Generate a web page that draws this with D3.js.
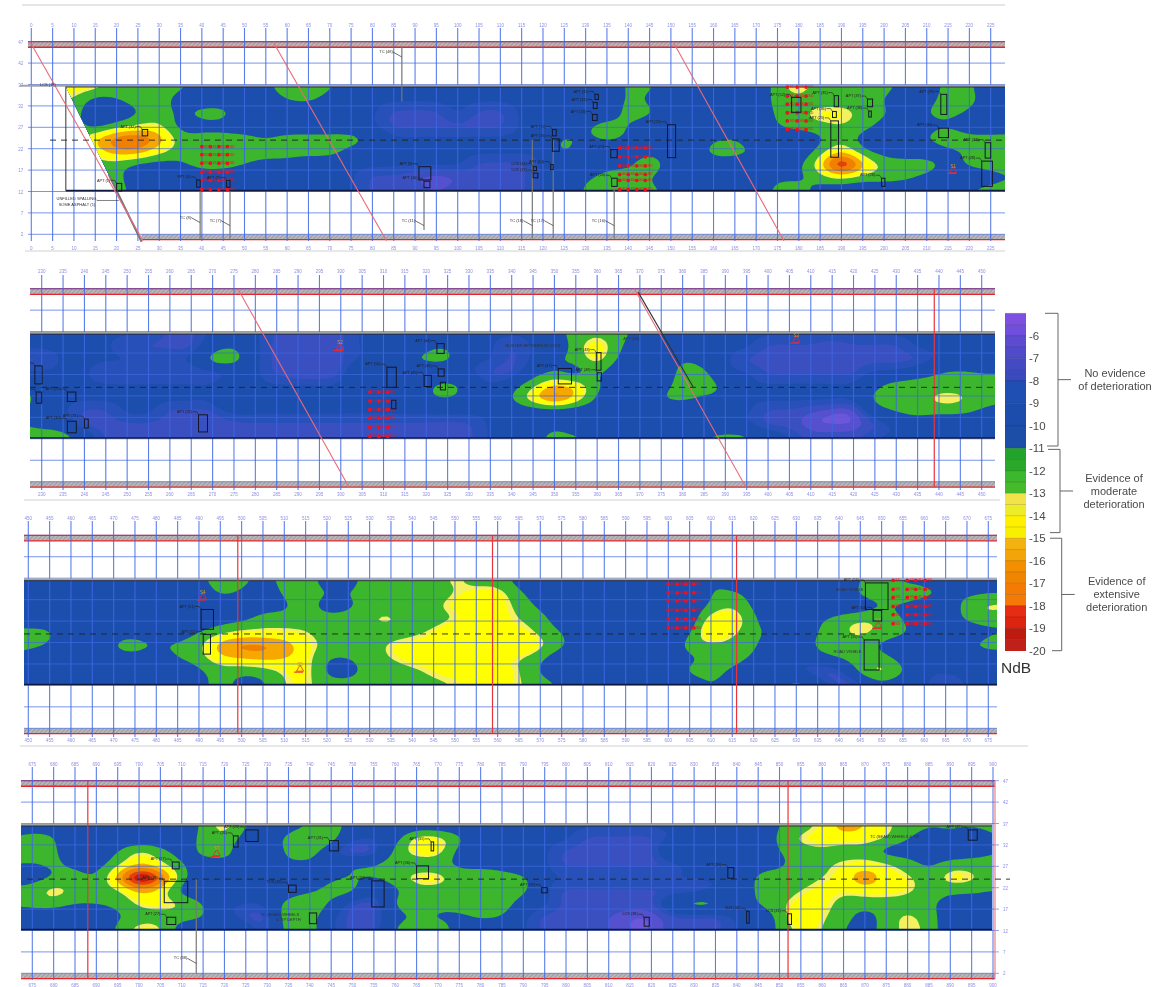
<!DOCTYPE html>
<html><head><meta charset="utf-8">
<script src="https://cdn.jsdelivr.net/npm/d3@7/dist/d3.min.js"></script>
<style>html,body{margin:0;padding:0;background:#fff}svg{display:block;filter:blur(0.45px)}text{font-family:"Liberation Sans",Arial,sans-serif}</style>
</head><body><svg id="c" width="1159" height="987"></svg>
<script>
// NdB magnitude read at every 5 stations (columns) across 9 lateral rows of each deck strip
const field1=[
[14,14,14,14,12,12,12,11.5,10,9,9,10,13,12,11.5,9,9,9,9,9,9,9,9,9,9,9,9,9,11.5,11.5,9,9,9,9,9,12,14,12,12,12,12,10,10,11.5,11.5,9,9],
[13,13,13,10,11,12,12,10,9,9,9,9,11,11.5,10,9,9,9,9,9,9,9,9,9,9,9,9,9,11.5,10.5,9,9,9,9,9,12,12.5,12,12,12,11,9,10,12,12,9,9],
[12,12,12,9,9,11,12,10.5,12,12,9,9,9,9,9,9,9,8,8,8,9,8,8,9,9,9,9,9,12,11.5,9,9,9,9,9,11.5,12.5,13.7,13.7,12.5,11.5,9,11,12,10.5,9,9],
[12,12,12,10,12,13,13.5,10,10,10,9,9,9,9,9,9,9,8,8,8,8,8,8,9,9,9,10.5,12,11,9,9,9,9,9,9,11,12,12.5,13,12,10,9,10,10.5,9,9,9],
[12,12,12,15,17.5,18,16,12,12,12,12,11,12,12,12,12,10,9,9,9,9,9,9,9,9,11.5,10.5,11.5,10.5,9,9,9,10.5,11,9,9,9,10.5,12.5,10,9,9,11,13,12,12,12],
[12,12,12,14,16,16,13.7,12,12,12,12,12,12,12,12,10,10,9,9,9,9,9,9,9,9,11.5,9,9,9,10,9,9,12,12,10.5,9,9,12,15,11.5,10,9,9,10,11.5,12,12],
[12,12,12,12,12,10.5,10,10.5,12,12,11,10,10,9,9,9,9,9,9,9,9,8,8,8,9,9,9,10,10,13.5,9,9,9,9,9,9,10.5,14.5,20.5,15.5,12.5,12.5,12.5,10,11.5,12,12],
[12,12,12,12,12,9,9,9,9,9,9,9,9,9,9,9,8,8,7.5,7,7.5,8,8,8,9,9,10.5,12,13,11,9,9,9,9,9,10.5,10.5,12,13.5,12,12,11.5,10,9,9,10,11],
[12,12,12,12,12,10,9,9,9,9,9,9,9,9,9,9,8,8,8,7.5,8,8,8,8,9,9,11.5,12.5,12,12,10,11,11.5,11,9,12,12,10,9,9,9,9,9,9,11,12,12]];
const field2=[
[9,9,9,9,9,9,9,8,8,9,9,9,8,8,8,8,9,9,9,9,9,9,9,9,9,10,12,12.5,12,10,9,9,9,9,9,9,9,9,9,9,9,9,9,9,9,9,9],
[9,9,9,9,9,8,8,8,8,10,11,9,8,8,8,8,9,9,9,10.5,11,9,9,8,9,9,12,14.5,11.5,9,9,9,9,9,9,8,8,8,7.5,8,8,8,9,9,9,9,9],
[8,8,9,9,9,9,9,9,9,12,12,9,8,8,8,8,9,9,10.5,11.5,11.5,9,9,8,9,11,11.5,14,10.5,9,9,11,10,9,8,8,8,8,8,8,8,8,8,9,9,9,9],
[9,9,9,9,8,8,8,8,8,8,9,9,8,7.5,7.5,8,11,9,9,9,9,9,8,8,10,11,10,11.5,9,9,9,12,11.5,9,9,8,8,8,8,8,9,9,10,11,11.5,11,11],
[11,9,9,9,9,9,9,9,9,9,10.5,9,9,9,9,9,11.5,9,9,10.5,12,10,9,10,12.5,15.5,14.5,11.5,9,9,10,12,12,10.5,9,9,9,9,9,9,10.5,12,12,12,12,12,12],
[12.5,10,9,9,9,9,9,9,9,9,11.5,9,9,9,9,9,9,9,9,10.5,11,10,9,11,14.5,17.5,14.5,10.5,9,9,11,11.5,10.5,10.5,9,9,9,9,9,9,11.5,12,12,13.7,13.5,12,11.5],
[11.5,9,9,8,8,9,9,8,8,8,9,9,9,9,9,9,9,9,9,9,9,9,9,9,9,9,9,9,9,9,9,9,9,9,9,8,8,7.5,7,7,10,11,12,11.5,11.5,10.5,10],
[11,10.5,10,8,8,8,8,8,8,8,8,8,8,8,8,8,8,8,8,8,8,8,9,9,9,10.5,9,9,9,9,9,9,9,9,9,8,8,7,7,7,8,9,9,9,9,9,9],
[12,12,12,10,8,8,8,8,8,8,8,8,8,8,8,8,8,8,8,8,8,8,9,9,10,12,11.5,10.5,9,9,9,9,11,12,11.5,10,9,8,8,8,9,9,10.5,11.5,9,9,9]];
const field3=[
[9,9,9,9,9,9,9,9,9,10.5,12,12,10,12,12,10,10,12,12,12,12,13.5,12,12,10,9,9,9,9,9,9,9,9,11,9.5,9,9,9,9,9,11,12,10.5,10,9,9,9,9],
[9,9,9,9,9,9,9,9,9,9,11.5,10.5,9,11.5,12,11,11,12,12,12,12,13,14,14,11.5,9.5,9,9,9,9,9,9,9,11,11.5,10,9,9,9,9,11.5,12,12.5,12,10.5,10.5,11,11],
[9,9,9,9,9,9,9,9,9,9,9,9,10,10.5,12,10,10.5,12,12,12,12.5,14,14,14,12.5,10.5,9,9,9,9,9,9,9,11.5,13,10.5,9,9,9,9,9.5,11,10.5,9,9,12,13.5,13.5],
[9,9,9,9,9,9,9,9,9,9,10,10.5,12,12,12,12,12,13,13.5,12,12,13,14,14,13,12,9.5,9,9,9,9,9,9,14.5,14.5,11.5,9,9,10.5,12,13,12.5,11,9,9,11.5,12,11],
[12,12,11.5,9,9,10,10,9,9.5,11,12.5,13.5,13.5,13.5,13.2,12,12,12,12,12.5,13.5,15.5,14,14,14,12.5,11,9,9,9,9,9,10.5,15.5,13.5,11.5,10.5,9,11,12.5,13.5,12.5,11.5,9.5,9,9,10.5,11],
[12,12,10.5,9,9,11,12,11,11.5,12.5,16,17,17,16,14,12.5,12,12,13.5,14,14,14,14,14,15.5,13.5,11.5,9,9,9,9,9,12,12.5,12,11.5,9,9,11.5,12,12,10.5,9,9,9,10.5,12,12],
[10.5,9,9,11.5,11.2,10,10,9,11,12,14.5,15,15.5,15,14,11,11,12,13,14,14,14,14,14,13,11.5,9,9,9,9,9,9,10.5,11.5,12,10.5,9,9,10,11,12,12,10,9,9,9,9,9],
[9,9,9,9,9,9,9,9,9,10.5,12,11.5,12,13.3,14,10.5,10,12,12,12.5,13.5,14,14,14,13.2,10.8,9,9,9,9,9,9,11.5,12,10.5,9,9,9,8,8,11.5,14,11,9,9,9,9,9],
[9,9,9,9,9,9,9,9,9,10,12,10,10.5,13,13.5,12,12,12,12,12,12.5,13,14,14,13.2,12,10.8,9,9,9,9,9,9,11,9.5,9,10,12,10,8,8,10,9,9,8,9,9,9]];
const field4=[
[9,9,10,11.5,10,9,9,9,9,11.5,14,11,9,9.5,11,11.5,10.5,9,9,9,9,9,9,9,9,9,9,9,9,9,9,9,9,9,9,9,11,12,13.5,16,15,13.5,12,11.2,11.5,11.5,11.5],
[11,12.5,11,9.5,9,9,9,9,9,12,12.5,10,9,12,13.5,12,9,9,10,14,14,11.5,9,9,9,9,9,8,8,8,8,9,9,9,9,9,11.5,13.5,14,14,14,13,11,10,10,9,11],
[12.5,13,11.5,9,9,11,13.5,12,10,11.5,12,9,9,11.5,12,9,7.5,8,11.5,14,14,10,9,9,9,9,8,8,8,7.5,8,11,11.5,9,9,9,11,12,12.5,12,12,10,10,10,9.5,10,11],
[11,10.5,11.5,10.5,10,12.5,15,13.5,11,10,10,11,10.5,10.5,10.5,10,11,11,12,11.5,11.5,10.5,10.5,10,9,9,8,8,8,8,8,8,9.5,9,9,10,10.5,12,12.5,13.5,14,13.5,12,10.5,12,12,11.5],
[9.5,10,11,12,11,16,21.5,18.5,12,9,9,9,9,9,9,10.5,11,11,12,14,14,12,12,12,11.5,9,9,9,9,9,9,9,9,9,9,11.5,12,12,13,14,16.5,14,13.5,12,14,13.5,12],
[12,12,14,12.5,12,12.5,15.5,14,10,9,9,9,9,9.5,10.5,12,11.5,9,10.5,12,12,12,12,12,11.5,9,8,8,8,8,8,8,8,9,9,11.5,12,13,14,13.5,14,14,13.5,12,11.5,11.5,11],
[11.5,12,12,11,11,11.5,13.5,14,13,11,9,9,9,12,13,10.5,8,8,11,13.5,12,12,12,12,10,9,8,8,8,8,8,10.5,12,11.5,10,11,12.5,14,14,12,12,12,12,11.5,10,9.5,9.5],
[9,9,9.5,9,10,10.5,12,12,12,11,9.5,8,8,12.5,12,9,8,8,10,11,10.5,10.5,11.5,11,9,8,8,8,7.5,7,7,8,8,8,9,9.5,11.5,15.5,13.2,12,10,12,13.5,12,9.5,9,9],
[9,9,11.5,10.5,9,11.5,14,13.5,9.5,9.5,11.5,10,8,12,12,9,8,8,11,13.5,13,9.5,9,9,9,8,8,8,7.5,7,7,8,8,8,9,9,11.5,13.5,13,11,10,12,13.5,12.5,9,9,9]];

// Inspection boxes: station from, station to, offset top, offset bottom, label
const boxes1=[[26,27.3,26.5,25,"APT (32)"],[38.8,39.6,14.7,13,"SPT (6)"],[45.8,46.6,14.6,13,"APT (7)"],[20,21.2,13.9,12.1,"APT (1)"],[90.9,93.7,17.8,14.7,"APT (9)"],[92.1,93.5,14.4,12.9,"APT (10)"],[132.2,133,34.7,33.5,"APT (31)"],[131.8,132.7,32.8,31.4,"APT (32)"],[131.6,132.7,30,28.6,"APT (33)"],[122.2,123.1,26.5,25,"APT (15)"],[122.2,123.8,24.3,21.4,"APT (16)"],[117.7,118.5,17.8,16.9,"LCS (14)"],[117.7,118.8,16.3,15.2,"LCS (13)"],[121.8,122.4,18.3,17.1,"APT (14)"],[135.9,137.4,21.8,19.9,"APT (21)"],[136.1,137.4,15.1,13.2,"APT (20)"],[149.2,151.1,27.6,19.9,"APT (23)"],[178.3,180.5,34,30.5,"APT (52)"],[188.3,189.3,34.4,31.8,"APT (35)"],[187.9,188.8,30.7,29.3,"APT (36)"],[187.5,189.3,28.5,20,"APT (25)"],[196.1,197.3,33.6,31.8,"APT (37)"],[196.4,197,30.8,29.4,"APT (38)"],[199.4,200.2,15.1,13.2,"APT (26)"],[213.3,214.7,34.7,30,"APT (39)"],[212.8,215.1,26.8,24.6,"APT (40)"],[223.7,225,23.4,19.8,"APT (27)"],[222.9,225.4,19.1,13.2,"APT (28)"]];
const boxes2=[[228.4,230.1,29,24.8,"APT (41)"],[228.7,230,22.9,20.3,"APT (42)"],[236,238,22.9,20.7,"APT (29)"],[236,238.1,16.1,13.4,"APT (30)"],[240,240.9,16.6,14.5,"APT (31)"],[266.7,268.8,17.6,13.6,"APT (32)"],[310.8,313,28.7,24,"APT (50)"],[322.5,324.2,34.2,31.9,"APT (44)"],[322.8,324.2,28.3,26.6,"APT (46)"],[319.5,321.2,26.8,24.2,"APT (45)"],[323.3,324.5,25.2,23.4,""],[311.9,312.9,21,19,""],[350.9,354,28.4,24.8,"APT (47)"],[359.8,360.9,32.1,28,"APT (48)"],[360,361,27.4,25.5,"APT (49)"]];
const boxes3=[[490.5,493.4,29.7,25.1,"APT (51)"],[491,492.7,23.9,19.3,"APT (52)"],[646.2,651.5,35.9,29.7,"APT (53)"],[648,650,29.5,27,"APT (54)"],[645.9,649.4,22.6,15.6,"APT (55)"]];
const boxes4=[[707.8,709.4,28,26.4,"APT (27)"],[705.9,711.4,23.5,18.5,"APT (28)"],[706.5,708.6,15.1,13.4,"APT (27)"],[722.1,723.2,34.1,31.5,"APT (26)"],[725,727.9,35.5,32.8,"APT (29)"],[744.6,746.7,33,30.6,"APT (31)"],[735,736.8,22.6,20.9,"TOS (33)"],[739.9,741.6,16.1,13.6,""],[754.5,757.4,23.6,17.5,"APT (34)"],[765,767.8,27.1,24.1,"APT (36)"],[768.4,769,32.7,30.6,"APT (35)"],[794.3,795.6,22,20.8,"APT (37)"],[837.9,839.3,26.7,24.2,"APT (39)"],[842.3,842.9,16.5,13.7,"SLR (40)"],[818.3,819.5,15.1,13,"LCS (38)"],[851.9,852.8,15.9,13.4,"LCS (41)"],[894.2,896.3,35.5,33.1,"APT (42)"]];

// Core-dot grids: stations and offsets
const dotGrids1=[{st:[40,42,44,46],off:[22.5,20.6,18.6,16.5,14.6,12.5]},{st:[138,140,142,144],off:[22.2,20.1,18,16,14.6,12.5]},{st:[177.3,179.6,181.7],off:[36.4,34.3,32.4,30.4,28.5,26.5]}];
const dotGrids2=[{st:[306.8,308.9,311],off:[22.9,20.8,18.8,16.8,14.7,12.6]}];
const dotGrids3=[{st:[600,602.1,604.1,606],off:[35.6,33.6,31.7,29.5,27.5,25.4]},{st:[652.7,656,658,660.2],off:[36.5,34.4,32.5,30.4,28.5,26.4]}];
const dotGrids4=[];

// Spall marks: station, offset, label
const marks1=[[216.2,16.9,"S1"]];
const marks2=[[299.8,33.3,"S2"],[406.6,35,"S3"]];
const marks3=[[490.9,32.6,"S4"],[513.7,15.8,"S5"],[649.2,26,"S6"]];
const marks4=[[718.2,30,"S7"]];

// Joint diagonals and edge lines: station top, offset top, station bottom, offset bottom, colour
const diagonals1=[[-0.3,47,26.2,0.5,"#ea6a78"],[56.7,47,83.3,0.5,"#ea6a78"],[150.5,47,176.5,0.5,"#ea6a78"]];
const diagonals2=[[275.9,47,302,0.6,"#ea6a78"],[368.7,47,394.9,0.6,"#ea6a78"],[369.6,46.2,382.5,24,"#333"]];
const diagonals3=[];
const diagonals4=[];
const redLines1=[];const redLines2=[438.9];const redLines3=[499.1,558.8,616];const redLines4=[688,852];

// Test-core pipes: station, offset top, offset bottom, label, label offset
const pipes1=[[39.6,12,1,"TC (8)",5.9],[46.6,12,1,"TC (7)",5.2],[86.9,46,33,"TC (48)",44.6],[92.1,12,3,"TC (11)",5.2],[117.5,24,1,"TC (18)",5.2],[122.4,24,1,"TC (17)",5.2],[136.7,13,1,"TC (16)",5.2]];
const pipes2=[];const pipes3=[];
const pipes4=[[713.4,24,2,"TC (38)",5.5]];

// Free notes: station, offset, text
const notes1=[[10.7,9.9,"UNFILLED SPALLING,"],[10.7,8.7,"SOME ASPHALT (1)"],[3.9,36.7,"LCS (18)"]];
const notes2=[[345,33.5,"BLISTER BETWEEN BLOCKS"],[368,35,"APT (43)"]];
const notes3=[[642.5,34,"ROAD VISIBLE"],[642,19.5,"ROAD VISIBLE"]];
const notes4=[[733,15.3,"TC (SEAM) WHEELS"],[735,14.2,"& TIP DEPTH"],[877,33.5,"TC (SEAM) WHEELS & TIP"]];
const skewEdge=[[8.1,36.5],[20,12.2]];
const offsetLabels=[2,7,12,17,22,27,32,37,42,47];

// Legend
const legendTicks=[-6,-7,-8,-9,-10,-11,-12,-13,-14,-15,-16,-17,-18,-19,-20];
const legendSteps=[[-5,-5.5,"#7d50e2"],[-5.5,-6,"#6f4fdc"],[-6,-6.5,"#5d4cd0"],[-6.5,-7,"#504bc8"],[-7,-7.5,"#444ac2"],[-7.5,-8,"#3a4abc"],[-8,-9,"#1f4fb2"],[-9,-10,"#1c4cac"],[-10,-11,"#1c4ea8"],[-11,-11.5,"#22a32c"],[-11.5,-12,"#2aa82a"],[-12,-12.5,"#3cb82e"],[-12.5,-13,"#45bb2c"],[-13,-13.5,"#f4e24a"],[-13.5,-14,"#ecec2a"],[-14,-14.5,"#fff000"],[-14.5,-15,"#f8f000"],[-15,-15.5,"#f3b210"],[-15.5,-16,"#f3a408"],[-16,-16.5,"#f39000"],[-16.5,-17,"#f08600"],[-17,-17.5,"#f27a05"],[-17.5,-18,"#f47a05"],[-18,-18.5,"#e62c12"],[-18.5,-19,"#dc2410"],[-19,-19.5,"#bd1a10"],[-19.5,-20,"#c0201a"]];
const legendGroups=[{lines:["No evidence","of deterioration"],from:-5,to:-10.9},{lines:["Evidence of","moderate","deterioration"],from:-11.05,to:-14.75},{lines:["Evidence of","extensive","deterioration"],from:-15,to:-20}];

// Colour bands over NdB magnitude
const bandFloors=[0,7,7.5,8.2,8.8,11,13,13.4,15,16.5,18,19];
const bandColors=["#6c56da","#5450ce","#3a4fc0","#2750b8","#1c4eae","#3cb62c","#f4f060","#ffff00","#f6a800","#f28000","#e4400c","#cc1c08"];

const svg=d3.select("#c");
const defs=svg.append("defs");
const pat=defs.append("pattern").attr("id","hatch").attr("width",3).attr("height",3).attr("patternUnits","userSpaceOnUse").attr("patternTransform","rotate(45)");
pat.append("rect").attr("width",3).attr("height",3).attr("fill","#b8b8b8");
pat.append("line").attr("x1",0).attr("y1",0).attr("x2",0).attr("y2",3).attr("stroke","#808080").attr("stroke-width",1);

// Layout per strip (pixels only here)
const panels=[
{id:1,field:field1,gridStart:0,stations:[0,225],xr:[31.3,990.7],yr:[234.3,41.7],left:28,right:1005,top:25,bottom:248,vTop:28,vBot:241,dash:[50,1005],yEdge:"left",boxes:boxes1,dots:dotGrids1,marks:marks1,diag:diagonals1,red:redLines1,pipes:pipes1,notes:notes1,sep:[25,1005,250]},
{id:2,field:field2,gridStart:225,stations:[230,450],xr:[41.7,981.7],yr:[481.7,288.7],left:30,right:995,top:271,bottom:494,vTop:275,vBot:490,dash:[30,995],boxes:boxes2,dots:dotGrids2,marks:marks2,diag:diagonals2,red:redLines2,pipes:pipes2,notes:notes2,sep:[24,1000,499]},
{id:3,field:field3,gridStart:445,stations:[450,675],xr:[28.3,988.3],yr:[728.3,535.3],left:24,right:997,top:518,bottom:740,vTop:521,vBot:737,dash:[24,997],boxes:boxes3,dots:dotGrids3,marks:marks3,diag:diagonals3,red:redLines3,pipes:pipes3,notes:notes3,sep:[20,1028,745]},
{id:4,field:field4,gridStart:670,stations:[675,900],xr:[32.3,993],yr:[973.3,780.7],left:21,right:995,top:764,bottom:985,vTop:767,vBot:980,dash:[27,1010],yEdge:"right",boxes:boxes4,dots:dotGrids4,marks:marks4,diag:diagonals4,red:redLines4,pipes:pipes4,notes:notes4,bandRight:992}
];

const BAND=[36.5,12.2], STEP=5, UP=5;
const cr=(a,b,c,d,t)=>0.5*((2*b)+(-a+c)*t+(2*a-5*b+4*c-d)*t*t+(-a+3*b-3*c+d)*t*t*t);
svg.append("rect").attr("x",22).attr("y",4).attr("width",983).attr("height",2).attr("fill","#e6e6e6");

panels.forEach(p=>{
  const g=svg.append("g");
  const x=d3.scaleLinear(p.stations,p.xr), y=d3.scaleLinear([2,47],p.yr);
  const xLeft=p.left,xRight=p.right,bandR=p.bandRight||p.right;
  if(p.sep) g.append("rect").attr("x",p.sep[0]).attr("y",p.sep[2]).attr("width",p.sep[1]-p.sep[0]).attr("height",2).attr("fill","#e8e8e8");

  // field: the read values are resampled onto a finer grid only to round the contour outlines
  const rows=p.field.length, cols=p.field[0].length;
  const W=(cols-1)*UP+1,H=(rows-1)*UP+1,vals=new Float64Array(W*H);
  const at=(r,c)=>p.field[Math.max(0,Math.min(rows-1,r))][Math.max(0,Math.min(cols-1,c))];
  for(let j=0;j<H;j++)for(let i=0;i<W;i++){
    const cf=i/UP,rf=j/UP,c0=Math.min(Math.floor(cf),cols-2),r0=Math.min(Math.floor(rf),rows-2),tx=cf-c0,ty=rf-r0;
    const rowv=[-1,0,1,2].map(dr=>cr(at(r0+dr,c0-1),at(r0+dr,c0),at(r0+dr,c0+1),at(r0+dr,c0+2),tx));
    vals[j*W+i]=cr(rowv[0],rowv[1],rowv[2],rowv[3],ty);
  }
  d3.blur2({data:vals,width:W,height:H},1.2);
  const oTop=BAND[0],oBot=BAND[1];
  const proj=d3.geoTransform({point(px,py){
    const st=p.gridStart+(px-0.5)/UP*STEP, off=oTop-(py-0.5)/UP*(oTop-oBot)/(rows-1);
    this.stream.point(x(st),y(off));
  }});
  const path=d3.geoPath(proj);
  const clipId="clip"+p.id;
  const clipPts=p.id===1
    ?[[x(skewEdge[0][0]),y(BAND[0])],[bandR,y(BAND[0])],[bandR,y(BAND[1])],[x(skewEdge[1][0]),y(BAND[1])]]
    :[[xLeft,y(BAND[0])],[bandR,y(BAND[0])],[bandR,y(BAND[1])],[xLeft,y(BAND[1])]];
  defs.append("clipPath").attr("id",clipId).append("polygon").attr("points",clipPts.map(d=>d.join(",")).join(" "));
  defs.append("clipPath").attr("id","lab"+p.id).append("rect").attr("x",xLeft).attr("y",p.top-6).attr("width",xRight-xLeft+20).attr("height",p.bottom-p.top+12);
  const fg=g.append("g").attr("clip-path",`url(#${clipId})`);
  fg.append("polygon").attr("points",clipPts.map(d=>d.join(",")).join(" ")).attr("fill",bandColors[4]);
  const contours=d3.contours().size([W,H]).smooth(true).thresholds(bandFloors)(Array.from(vals));
  fg.selectAll("path").data(contours).join("path").attr("d",path).attr("fill",(d,i)=>bandColors[i]);

  // hatch bands
  const hatch=[[47,45.7],[2,0.75]];
  hatch.forEach((h,k)=>{
    const x0=(p.id===1&&k===1)?x(skewEdge[1][0])+25:xLeft;
    g.append("rect").attr("x",x0).attr("y",y(h[0])).attr("width",xRight-x0).attr("height",y(h[1])-y(h[0])).attr("fill","url(#hatch)");
    g.append("line").attr("x1",x0).attr("x2",xRight).attr("y1",y(h[1])).attr("y2",y(h[1])).attr("stroke","#e8232b").attr("stroke-width",1.3);
    if(k===0) g.append("line").attr("x1",x0).attr("x2",xRight).attr("y1",y(h[0])).attr("y2",y(h[0])).attr("stroke","#e8232b").attr("stroke-width",1.2);
  });

  // grid
  const gridColor="#3f68e4";
  offsetLabels.forEach(o=>{
    g.append("line").attr("x1",xLeft).attr("x2",xRight).attr("y1",y(o)).attr("y2",y(o)).attr("stroke",gridColor).attr("stroke-width",1).attr("opacity",.7);
  });
  d3.range(p.stations[0],p.stations[1]+1,STEP).forEach(s=>{
    g.append("line").attr("x1",x(s)).attr("x2",x(s)).attr("y1",p.vTop).attr("y2",p.vBot).attr("stroke",gridColor).attr("stroke-width",1.1).attr("opacity",.85);
    [p.top,p.bottom].forEach(ty=>g.append("text").attr("x",x(s)).attr("y",ty+2).attr("text-anchor","middle").attr("font-size",4.5).attr("fill","#8d8dea").text(s));
  });
  if(p.yEdge==="left") offsetLabels.forEach(o=>g.append("text").attr("x",x(0)-8).attr("y",y(o)+2).attr("text-anchor","end").attr("font-size",4.5).attr("fill","#8d8dea").text(o));
  if(p.yEdge==="right"){
    offsetLabels.forEach(o=>{
      g.append("line").attr("x1",xRight).attr("x2",xRight+4).attr("y1",y(o)).attr("y2",y(o)).attr("stroke",gridColor).attr("opacity",.6);
      g.append("text").attr("x",xRight+8).attr("y",y(o)+2).attr("font-size",4.5).attr("fill","#8d8dea").text(o);
    });
    g.append("line").attr("x1",xRight).attr("x2",xRight).attr("y1",y(47)).attr("y2",y(0.75)).attr("stroke","#ef7f88").attr("stroke-width",1.2);
  }

  // band outline
  const bx0=clipPts[0][0];
  g.append("line").attr("x1",p.id===1?20:xLeft).attr("x2",bandR).attr("y1",y(BAND[0])-.8).attr("y2",y(BAND[0])-.8).attr("stroke","#a4a4a4").attr("stroke-width",2);
  g.append("line").attr("x1",bx0).attr("x2",bandR).attr("y1",y(BAND[0])+.4).attr("y2",y(BAND[0])+.4).attr("stroke","#222").attr("stroke-width",.8);
  g.append("line").attr("x1",p.id===1?x(skewEdge[0][0]):xLeft).attr("x2",bandR).attr("y1",y(BAND[1])).attr("y2",y(BAND[1])).attr("stroke","#101a40").attr("stroke-width",1.6);
  if(p.id===1){
    g.append("line").attr("x1",x(skewEdge[0][0])).attr("x2",x(skewEdge[0][0])).attr("y1",y(BAND[0])).attr("y2",y(BAND[1])).attr("stroke","#333").attr("stroke-width",1);
    const k=(y(BAND[1])-y(BAND[0]))/(x(skewEdge[1][0])-x(skewEdge[0][0]));
    g.append("line").attr("x1",x(skewEdge[1][0])-8).attr("y1",y(BAND[1])-8*k).attr("x2",x(skewEdge[1][0])+25).attr("y2",y(BAND[1])+25*k).attr("stroke","#777").attr("stroke-width",2);
  }

  // diagonals, red lines
  p.diag.forEach(d=>g.append("line").attr("x1",x(d[0])).attr("y1",y(d[1])).attr("x2",x(d[2])).attr("y2",y(d[3])).attr("stroke",d[4]).attr("stroke-width",1.1));
  p.red.forEach(s=>g.append("line").attr("x1",x(s)).attr("x2",x(s)).attr("y1",y(47)).attr("y2",y(0.75)).attr("stroke","#e8353c").attr("stroke-width",1.2));

  // centre line
  g.append("line").attr("x1",p.dash[0]).attr("x2",p.dash[1]).attr("y1",y(24)).attr("y2",y(24)).attr("stroke","#222").attr("stroke-width",.9).attr("stroke-dasharray","6,5");

  // pipes
  p.pipes.forEach(d=>{
    g.append("line").attr("x1",x(d[0])).attr("x2",x(d[0])).attr("y1",y(d[1])).attr("y2",y(d[2])).attr("stroke","#777").attr("stroke-width",1.2);
    g.append("path").attr("d",`M${x(d[0])-9},${y(d[4])}L${x(d[0])},${y(d[4])+5}`).attr("stroke","#333").attr("fill","none").attr("stroke-width",.7);
    g.append("text").attr("x",x(d[0])-9).attr("y",y(d[4])+1).attr("text-anchor","end").attr("font-size",4).attr("fill","#333").text(d[3]);
  });

  // dots
  p.dots.forEach(grid=>grid.off.forEach(o=>grid.st.forEach(s=>{
    g.append("circle").attr("cx",x(s)).attr("cy",y(o)).attr("r",1.9).attr("fill","#f01020");
    g.append("text").attr("x",x(s)+2.2).attr("y",y(o)+1).attr("font-size",3.6).attr("fill","#f01020").text("SD");
  })));

  // marks
  p.marks.forEach(d=>{
    g.append("path").attr("d",d3.symbol(d3.symbolTriangle,22)()).attr("transform",`translate(${x(d[0])},${y(d[1])})`).attr("fill","none").attr("stroke","#ea2a30").attr("stroke-width",.8);
    g.append("line").attr("x1",x(d[0])-6).attr("x2",x(d[0])+3).attr("y1",y(d[1])+3).attr("y2",y(d[1])+3).attr("stroke","#ea2a30").attr("stroke-width",1.1);
    g.append("text").attr("x",x(d[0])).attr("y",y(d[1])-3).attr("text-anchor","middle").attr("font-size",4.5).attr("fill","#c8a030").text(d[2]);
  });

  // boxes
  const bg=g.append("g").attr("clip-path",`url(#lab${p.id})`);
  p.boxes.forEach(d=>{
    const bx=x(d[0]),bw=x(d[1])-x(d[0]),by=y(d[2]),bh=y(d[3])-y(d[2]);
    bg.append("rect").attr("x",bx).attr("y",by).attr("width",bw).attr("height",bh).attr("fill","none").attr("stroke","#14182a").attr("stroke-width",1);
    if(d[4]){
      bg.append("path").attr("d",`M${bx-6},${by-3}L${bx-2},${by-3}L${bx},${by}`).attr("fill","none").attr("stroke","#222").attr("stroke-width",.6);
      bg.append("text").attr("x",bx-6.5).attr("y",by-1.8).attr("text-anchor","end").attr("font-size",3.8).attr("fill","#222").text(d[4]);
    }
  });

  // notes
  p.notes.forEach(d=>g.append("text").attr("x",x(d[0])).attr("y",y(d[1])).attr("text-anchor","middle").attr("font-size",4).attr("fill","#333").text(d[2]));
  if(p.id===1) g.append("line").attr("x1",x(10.7)+20).attr("x2",x(20.5)).attr("y1",y(9.9)).attr("y2",y(9.9)).attr("stroke","#333").attr("stroke-width",.6);
});

// legend
const lg=svg.append("g");
const ly=d3.scaleLinear([-5,-20],[313.3,650.7]);
lg.selectAll("rect").data(legendSteps).join("rect").attr("x",1005).attr("width",21).attr("y",d=>ly(d[0])).attr("height",d=>ly(d[1])-ly(d[0])+.3).attr("fill",d=>d[2]);
legendSteps.forEach(d=>lg.append("line").attr("x1",1005).attr("x2",1026).attr("y1",ly(d[0])).attr("y2",ly(d[0])).attr("stroke","#000").attr("stroke-opacity",.15));
legendTicks.forEach(t=>lg.append("text").attr("x",1029).attr("y",ly(t)+4).attr("font-size",11.5).attr("fill","#4a4a4a").text(t));
legendGroups.forEach((b,i)=>{
  const bx=[1058,1060,1061.7][i],y0=ly(b.from),y1=ly(b.to),xs=[1045,1048,1050][i],mid=(y0+y1)/2;
  lg.append("path").attr("d",`M${xs},${y0}H${bx}V${y1}H${xs+2}M${bx},${mid}H${bx+13}`).attr("fill","none").attr("stroke","#666").attr("stroke-width",1);
  const cx=[1115,1114,1116.7][i],lh=13;
  b.lines.forEach((l,k)=>lg.append("text").attr("x",cx).attr("y",mid+4+(k-(b.lines.length-1)/2)*lh).attr("text-anchor","middle").attr("font-size",11).attr("fill","#4a4a4a").text(l));
});
lg.append("text").attr("x",1001).attr("y",673).attr("font-size",15.5).attr("fill","#333").text("NdB");
</script></body></html>
